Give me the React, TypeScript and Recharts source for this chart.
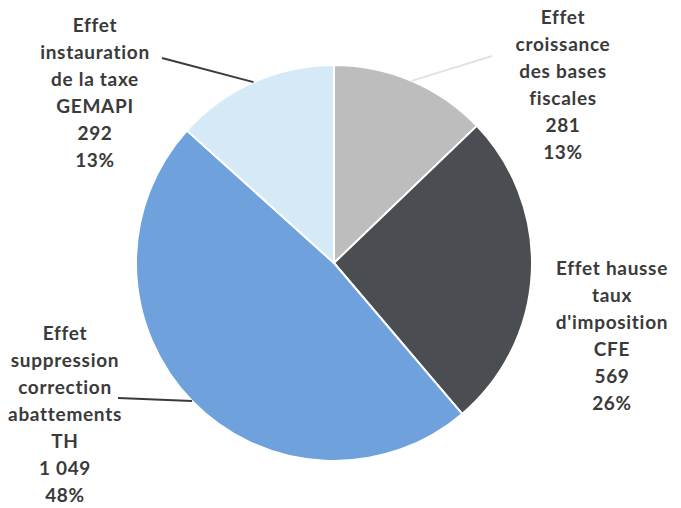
import { Pie, PieChart, Cell } from "recharts";

const names = [
  "croissance",
  "hausse",
  "suppression",
  "gemapi",
];
const values = [281, 569, 1049, 292];
const valueLabels = ["281", "569", "1 049", "292"];
const percentLabels = ["13%", "26%", "48%", "13%"];
const labelLines = [
  ["Effet", "croissance", "des bases", "fiscales"],
  ["Effet hausse", "taux", "d'imposition", "CFE"],
  ["Effet", "suppression", "correction", "abattements", "TH"],
  ["Effet", "instauration", "de la taxe", "GEMAPI"],
];

const COLORS = ["#bdbdbd", "#4a4d51", "#6fa2dc", "#d5e9f7"];
const TEXT = "#3a3a3a";

// label placement: text block centre x, first baseline y, leader line end
const LABEL_POS = [
  { x: 563, y: 24, line: [492, 56], lineColor: "#e2e2e2" },
  { x: 612, y: 275, line: null, lineColor: "" },
  { x: 65, y: 340, line: [118, 398], lineColor: "#3a3a3a" },
  { x: 95, y: 32, line: [162, 58], lineColor: "#3a3a3a" },
];

const data = names.map((n, i) => ({ name: n, value: values[i] }));

const RAD = Math.PI / 180;

function renderLabel(props: any) {
  const { cx, cy, midAngle, outerRadius, index } = props;
  const pos = LABEL_POS[index];
  const lines = [...labelLines[index], valueLabels[index], percentLabels[index]];
  const ex = cx + outerRadius * Math.cos(-midAngle * RAD);
  const ey = cy + outerRadius * Math.sin(-midAngle * RAD);
  return (
    <g key={index}>
      {pos.line && (
        <line
          x1={ex}
          y1={ey}
          x2={pos.line[0]}
          y2={pos.line[1]}
          stroke={pos.lineColor}
          strokeWidth={2}
        />
      )}
      <text
        x={pos.x}
        y={pos.y}
        textAnchor="middle"
        fill={TEXT}
        fontFamily="Lato"
        fontWeight="bold"
        fontSize={19}
        letterSpacing={0.7}
      >
        {lines.map((l, k) => (
          <tspan key={k} x={pos.x} dy={k === 0 ? 0 : 27}>
            {l}
          </tspan>
        ))}
      </text>
    </g>
  );
}

export default function App() {
  return (
    <div style={{ position: "absolute", left: 0, top: 0, background: "#fff" }}>
      <PieChart width={681} height={508}>
        <Pie
          data={data}
          dataKey="value"
          cx={329}
          cy={258}
          outerRadius={198}
          startAngle={90}
          endAngle={-270}
          stroke="#ffffff"
          strokeWidth={2}
          label={renderLabel}
          labelLine={false}
          isAnimationActive={false}
        >
          {data.map((d, i) => (
            <Cell key={d.name} fill={COLORS[i]} />
          ))}
        </Pie>
      </PieChart>
    </div>
  );
}
